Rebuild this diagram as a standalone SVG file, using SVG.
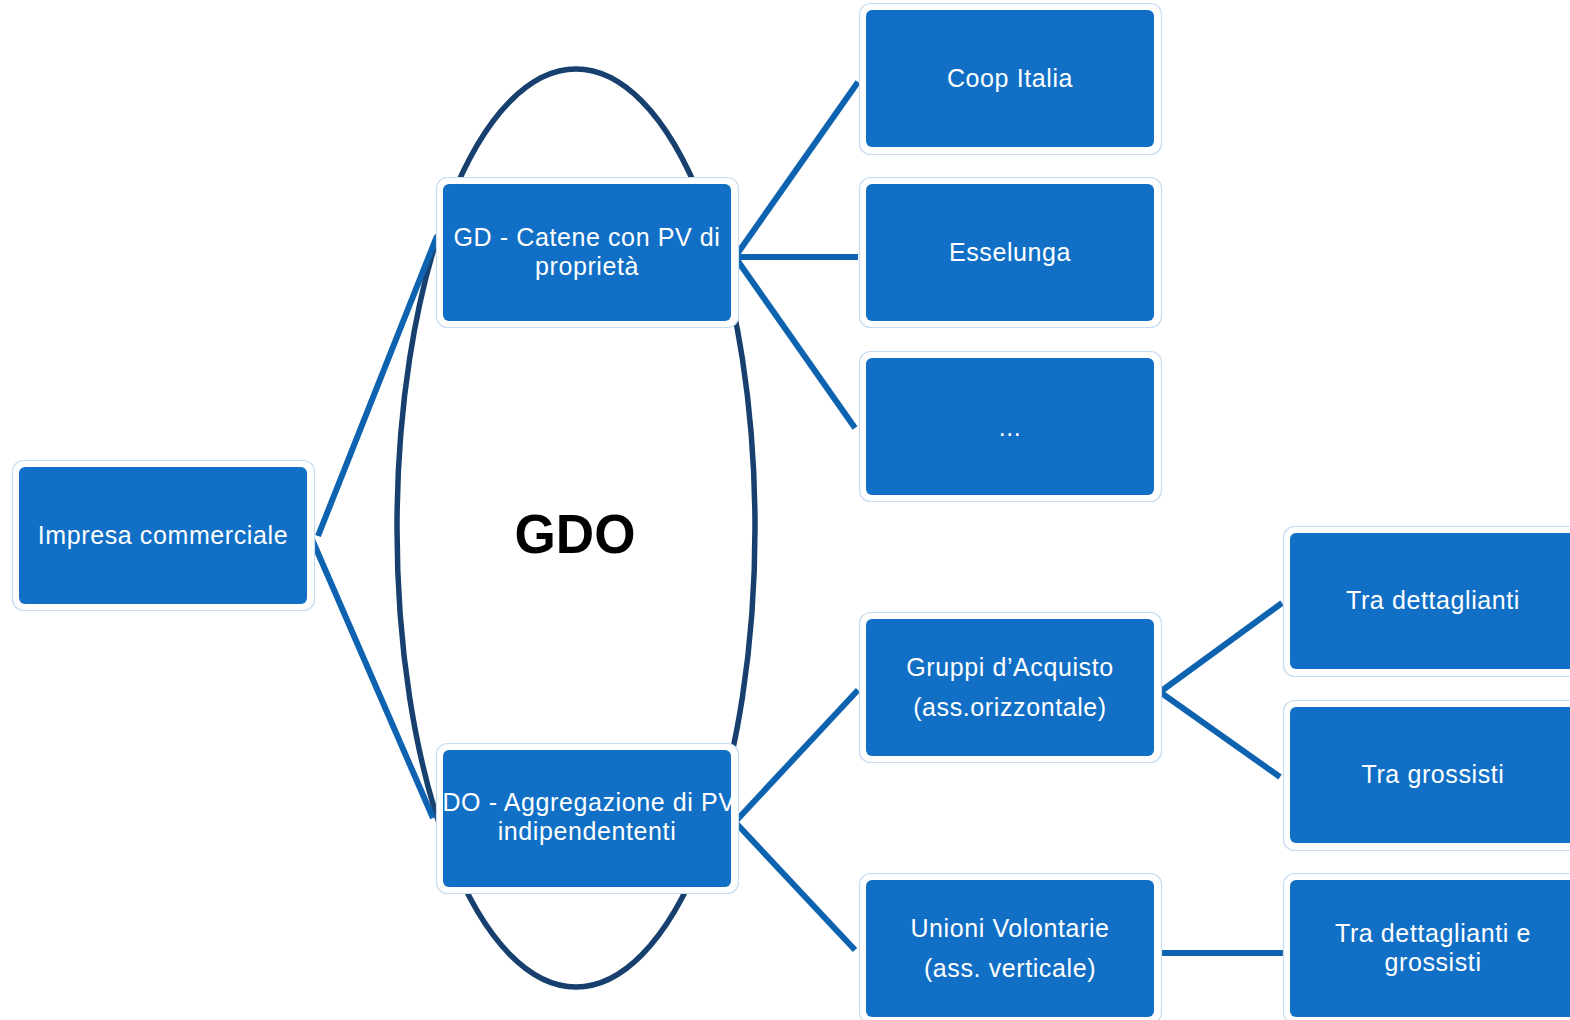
<svg xmlns="http://www.w3.org/2000/svg" width="1570" height="1020" viewBox="0 0 1570 1020">
<style>
.frame{fill:#ffffff;stroke:#c8dcf0;stroke-width:1.2}
.box{fill:#1170c6}
.t{fill:#ffffff;font-family:"Liberation Sans",Arial,sans-serif;font-size:25px;letter-spacing:0.6px;text-anchor:middle}
.c{stroke:#0e63b0;stroke-width:6;fill:none;stroke-linecap:butt}
.ell{fill:none;stroke:#17406e;stroke-width:5.5}
</style>
<rect width="1570" height="1020" fill="#ffffff"/>
<ellipse class="ell" cx="576" cy="528" rx="179" ry="459"/>
<text x="575" y="553" font-family="Liberation Sans, Arial, sans-serif" font-weight="bold" font-size="56" text-anchor="middle" textLength="121" lengthAdjust="spacingAndGlyphs" fill="#000000">GDO</text>
<g id="connectors">
<line class="c" x1="318" y1="536" x2="437" y2="236"/>
<line class="c" x1="311" y1="537" x2="433" y2="818"/>
<line class="c" x1="735" y1="257" x2="858" y2="82"/>
<line class="c" x1="735" y1="257" x2="858" y2="257"/>
<line class="c" x1="735" y1="257" x2="855" y2="428"/>
<line class="c" x1="735" y1="822" x2="858" y2="690"/>
<line class="c" x1="735" y1="822" x2="855" y2="950"/>
<line class="c" x1="1160" y1="692" x2="1282" y2="603"/>
<line class="c" x1="1160" y1="692" x2="1280" y2="777"/>
<line class="c" x1="1160" y1="953" x2="1283" y2="953"/>
</g>
<g id="n-impresa">
<rect class="frame" x="12.5" y="460.5" width="302" height="150" rx="11"/>
<rect class="box" x="19" y="467" width="288" height="137" rx="6"/>
<text class="t" x="163" y="544">Impresa commerciale</text>
</g>
<g id="n-gd">
<rect class="frame" x="436.5" y="177.5" width="302" height="150" rx="11"/>
<rect class="box" x="443" y="184" width="288" height="137" rx="6"/>
<text class="t" x="587" y="246">GD - Catene con PV di</text>
<text class="t" x="587" y="275">proprietà</text>
</g>
<g id="n-do">
<rect class="frame" x="436.5" y="743.5" width="302" height="150" rx="11"/>
<rect class="box" x="443" y="750" width="288" height="137" rx="6"/>
<text class="t" x="589" y="811">DO - Aggregazione di PV</text>
<text class="t" x="587" y="840">indipendententi</text>
</g>
<g id="n-coop">
<rect class="frame" x="859.5" y="3.5" width="302" height="151" rx="11"/>
<rect class="box" x="866" y="10" width="288" height="137" rx="6"/>
<text class="t" x="1010" y="87">Coop Italia</text>
</g>
<g id="n-esselunga">
<rect class="frame" x="859.5" y="177.5" width="302" height="150" rx="11"/>
<rect class="box" x="866" y="184" width="288" height="137" rx="6"/>
<text class="t" x="1010" y="261">Esselunga</text>
</g>
<g id="n-dots">
<rect class="frame" x="859.5" y="351.5" width="302" height="150" rx="11"/>
<rect class="box" x="866" y="358" width="288" height="137" rx="6"/>
<text class="t" x="1010" y="436">...</text>
</g>
<g id="n-gruppi">
<rect class="frame" x="859.5" y="612.5" width="302" height="150" rx="11"/>
<rect class="box" x="866" y="619" width="288" height="137" rx="6"/>
<text class="t" x="1010" y="676">Gruppi d’Acquisto</text>
<text class="t" x="1010" y="716">(ass.orizzontale)</text>
</g>
<g id="n-unioni">
<rect class="frame" x="859.5" y="873.5" width="302" height="150" rx="11"/>
<rect class="box" x="866" y="880" width="288" height="137" rx="6"/>
<text class="t" x="1010" y="937">Unioni Volontarie</text>
<text class="t" x="1010" y="977">(ass. verticale)</text>
</g>
<g id="n-tradett">
<rect class="frame" x="1283.5" y="526.5" width="302" height="150" rx="11"/>
<rect class="box" x="1290" y="533" width="288" height="136" rx="6"/>
<text class="t" x="1433" y="609">Tra dettaglianti</text>
</g>
<g id="n-tragross">
<rect class="frame" x="1283.5" y="700.5" width="302" height="150" rx="11"/>
<rect class="box" x="1290" y="707" width="288" height="136" rx="6"/>
<text class="t" x="1433" y="783">Tra grossisti</text>
</g>
<g id="n-tradettgross">
<rect class="frame" x="1283.5" y="873.5" width="302" height="150" rx="11"/>
<rect class="box" x="1290" y="880" width="288" height="137" rx="6"/>
<text class="t" x="1433" y="942">Tra dettaglianti e</text>
<text class="t" x="1433" y="971">grossisti</text>
</g>
</svg>
